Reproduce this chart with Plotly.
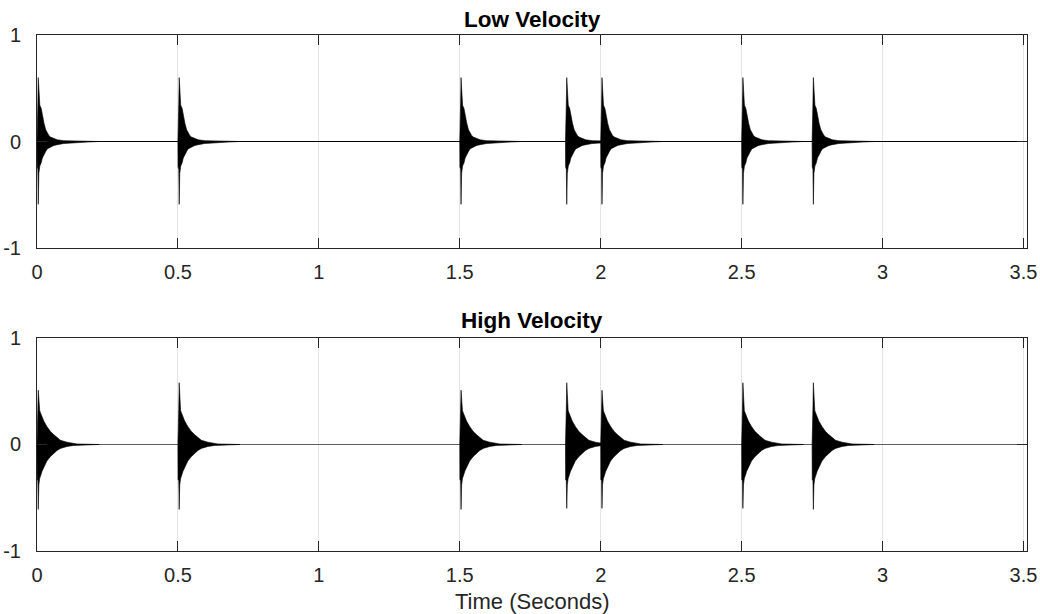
import plotly.graph_objects as go

# ---------------- data ----------------
DURATION = 3.5125                      # seconds shown on the time axis
ONSETS = [0.0, 0.5, 1.5, 1.875, 2.0, 2.5, 2.75]   # note onset times (s)

# per-note peak amplitudes of the attack transient
LOW_PEAK_UP = [0.60, 0.60, 0.60, 0.60, 0.60, 0.60, 0.60]
LOW_PEAK_DN = [-0.59, -0.59, -0.59, -0.59, -0.59, -0.59, -0.59]
HIGH_PEAK_UP = [0.51, 0.58, 0.51, 0.58, 0.51, 0.58, 0.58]
HIGH_PEAK_DN = [-0.61, -0.61, -0.61, -0.60, -0.60, -0.60, -0.61]

# decay envelope of one note (time after onset, amplitude); index 3 = attack spike
LOW_UP_T = [0, 0.0005, 0.003, 0.0045, 0.0065, 0.010, 0.015, 0.019, 0.025, 0.031,
            0.036, 0.042, 0.048, 0.060, 0.072, 0.095, 0.13, 0.18]
LOW_UP_A = [0, 0.34, 0.36, 0.60, 0.42, 0.34, 0.31, 0.24, 0.17, 0.11,
            0.078, 0.057, 0.042, 0.026, 0.016, 0.008, 0.004, 0]
LOW_DN_T = [0, 0.0005, 0.003, 0.0045, 0.0065, 0.010, 0.015, 0.019, 0.025, 0.031,
            0.036, 0.048, 0.060, 0.072, 0.095, 0.13, 0.18, 0.22]
LOW_DN_A = [0, -0.24, -0.26, -0.59, -0.30, -0.23, -0.20, -0.155, -0.125, -0.093,
            -0.07, -0.053, -0.037, -0.03, -0.019, -0.012, -0.005, 0]

HIGH_UP_T = [0, 0.0005, 0.003, 0.0045, 0.0065, 0.0095, 0.012, 0.018, 0.024, 0.035,
             0.047, 0.059, 0.071, 0.083, 0.106, 0.13, 0.142, 0.22]
HIGH_UP_A = [0, 0.33, 0.34, 0.51, 0.38, 0.32, 0.30, 0.25, 0.22, 0.17,
             0.125, 0.093, 0.062, 0.04, 0.022, 0.009, 0.005, 0]
HIGH_DN_T = [0, 0.0005, 0.003, 0.0045, 0.0065, 0.0095, 0.012, 0.018, 0.024, 0.035,
             0.047, 0.059, 0.071, 0.083, 0.106, 0.13, 0.142, 0.22]
HIGH_DN_A = [0, -0.33, -0.34, -0.61, -0.38, -0.32, -0.30, -0.25, -0.21, -0.155,
             -0.115, -0.084, -0.056, -0.037, -0.019, -0.009, -0.005, 0]

X_TICKS = [0, 0.5, 1, 1.5, 2, 2.5, 3, 3.5]
X_TICK_TEXT = ["0", "0.5", "1", "1.5", "2", "2.5", "3", "3.5"]
Y_TICKS = [-1, 0, 1]
Y_TICK_TEXT = ["-1", "0", "1"]
TITLES = ["Low Velocity", "High Velocity"]
X_LABEL = "Time (Seconds)"
SPIKE = 3

# ---------------- figure ----------------
FONT = "Liberation Sans, Arial, Helvetica, sans-serif"
AX_COLOR = "#262626"
GRID = "#e4e4e4"

fig = go.Figure()

panels = [
    dict(xa="x", ya="y", up_t=LOW_UP_T, up_a=LOW_UP_A, dn_t=LOW_DN_T, dn_a=LOW_DN_A,
         pk_up=LOW_PEAK_UP, pk_dn=LOW_PEAK_DN, zero_color="#000000"),
    dict(xa="x2", ya="y2", up_t=HIGH_UP_T, up_a=HIGH_UP_A, dn_t=HIGH_DN_T, dn_a=HIGH_DN_A,
         pk_up=HIGH_PEAK_UP, pk_dn=HIGH_PEAK_DN, zero_color="#5e5e5e"),
]

for p in panels:
    fig.add_trace(go.Scatter(x=[0, DURATION], y=[0, 0], mode="lines",
                             line=dict(color=p["zero_color"], width=1.1),
                             xaxis=p["xa"], yaxis=p["ya"], hoverinfo="skip"))
    for k, t0 in enumerate(ONSETS):
        up = list(p["up_a"])
        up[SPIKE] = p["pk_up"][k]
        dn = list(p["dn_a"])
        dn[SPIKE] = p["pk_dn"][k]
        xs = [t0 + t for t in p["up_t"]] + [t0 + t for t in reversed(p["dn_t"])]
        ys = up + list(reversed(dn))
        fig.add_trace(go.Scatter(x=xs, y=ys, mode="lines", fill="toself",
                                 fillcolor="#000000",
                                 line=dict(color="#000000", width=0.6),
                                 xaxis=p["xa"], yaxis=p["ya"], hoverinfo="skip"))

axis_common = dict(
    showline=True, linecolor=AX_COLOR, linewidth=1, mirror="ticks",
    ticks="inside", ticklen=10, tickwidth=1, tickcolor=AX_COLOR,
    showgrid=True, gridcolor=GRID, gridwidth=1, zeroline=False,
    automargin=False,
    tickfont=dict(family=FONT, size=20, color=AX_COLOR),
)

TOP_DOM = [0.5872, 1.0]
BOT_DOM = [0.0, 0.4128]

fig.update_layout(
    width=1040, height=614,
    margin=dict(l=37, r=12.5, t=35, b=63, autoexpand=False),
    paper_bgcolor="white", plot_bgcolor="white",
    showlegend=False,
    xaxis=dict(axis_common, domain=[0, 1], range=[0, DURATION], anchor="y",
               tickvals=X_TICKS, ticktext=X_TICK_TEXT, ticklabelstandoff=6),
    yaxis=dict(axis_common, domain=TOP_DOM, range=[-1, 1], anchor="x",
               tickvals=Y_TICKS, ticktext=Y_TICK_TEXT, ticklabelstandoff=11),
    xaxis2=dict(axis_common, domain=[0, 1], range=[0, DURATION], anchor="y2",
                tickvals=X_TICKS, ticktext=X_TICK_TEXT, ticklabelstandoff=6),
    yaxis2=dict(axis_common, domain=BOT_DOM, range=[-1, 1], anchor="x2",
                tickvals=Y_TICKS, ticktext=Y_TICK_TEXT, ticklabelstandoff=11),
    annotations=[
        dict(text="<b>" + TITLES[0] + "</b>", x=0.5, y=TOP_DOM[1], xref="paper", yref="paper",
             xanchor="center", yanchor="bottom", yshift=1, showarrow=False,
             font=dict(family=FONT, size=22.5, color="#000000")),
        dict(text="<b>" + TITLES[1] + "</b>", x=0.5, y=BOT_DOM[1], xref="paper", yref="paper",
             xanchor="center", yanchor="bottom", yshift=3, showarrow=False,
             font=dict(family=FONT, size=22.5, color="#000000")),
        dict(text=X_LABEL, x=0.5, y=0, xref="paper", yref="paper",
             xanchor="center", yanchor="top", yshift=-36, showarrow=False,
             font=dict(family=FONT, size=22, color=AX_COLOR)),
    ],
)

# remove the page's default body margin so the 1040x614 figure fills the window
fig.write_html(
    "out.html",
    config={"displayModeBar": False},
    post_script="document.body.style.margin='0';document.body.style.overflow='hidden';",
)
